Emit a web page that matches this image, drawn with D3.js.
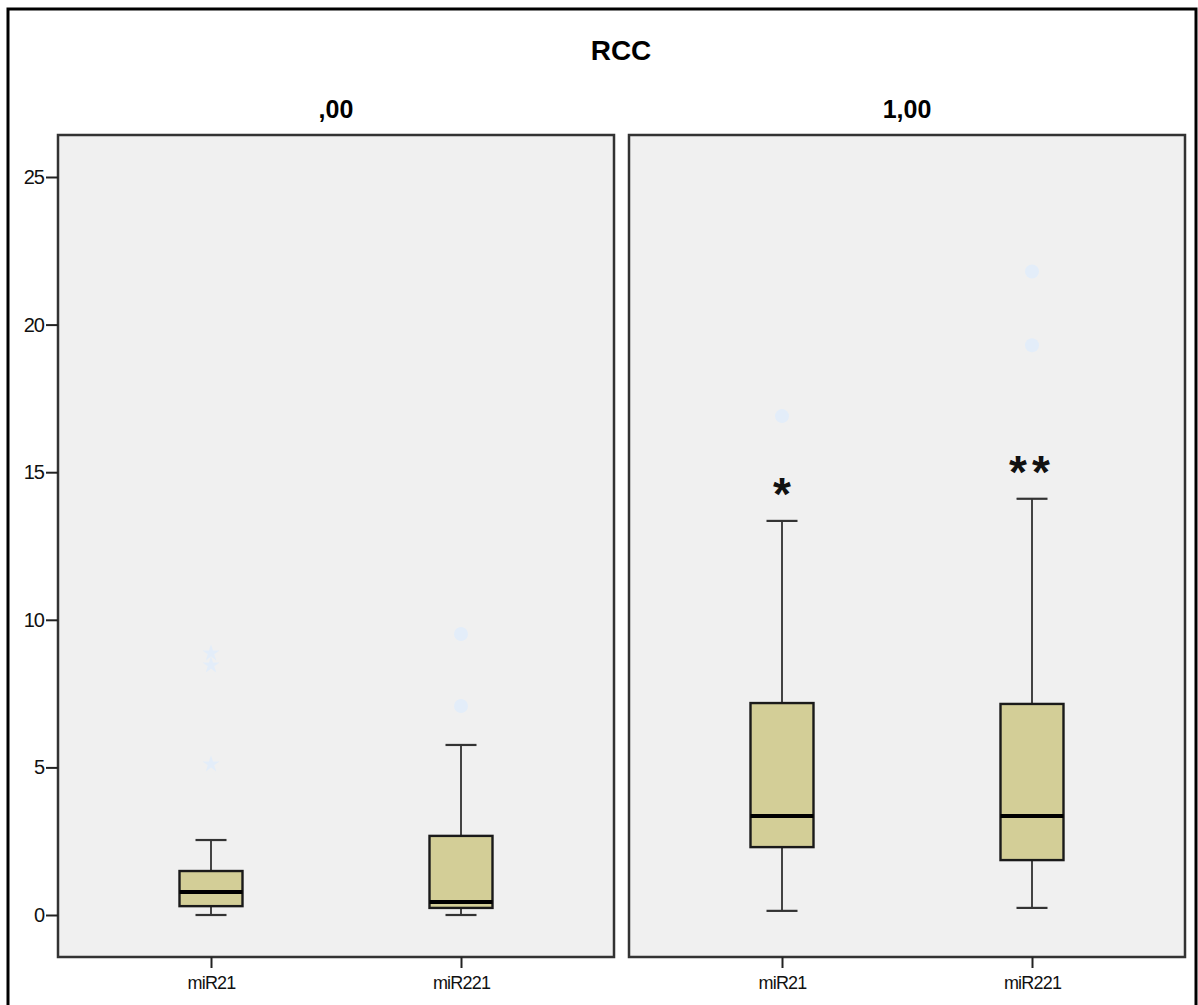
<html>
<script src="https://d3js.org/d3.v7.min.js"></script>
<body style="margin:0;background:#fff">
</body>
<script>
    // chart values
    let title = "RCC";
    let panels = [",00", "1,00"];
    let markers = ["miR21", "miR221"];
    let lowWhisker  = [[0.00, 0.00], [0.14, 0.24]];
    let q1          = [[0.30, 0.24], [2.30, 1.86]];
    let median      = [[0.78, 0.44], [3.35, 3.35]];
    let q3          = [[1.49, 2.68], [7.18, 7.15]];
    let highWhisker = [[2.54, 5.76], [13.35, 14.10]];
    let outliers = [[[], [9.52, 7.08]], [[16.9], [21.8, 19.3]]];
    let extremes = [[[8.87, 8.46, 5.11], []], [[], []]];
    let signif = [["", ""], ["*", "**"]];
    let yTicks = [0, 5, 10, 15, 20, 25];

    let width = 1198, height = 1005;
    let panelTop = 135, panelBottom = 957;
    let panelX = [58, 629], panelW = 556;

    let svg = d3.select("body").append("svg")
        .attr("width", width)
        .attr("height", height)
        .style("font-family", "'Liberation Sans', Arial, sans-serif");

    // outer frame
    svg.append("rect")
        .attr("x", 8).attr("y", 9)
        .attr("width", 1188).attr("height", 1010)
        .attr("fill", "none")
        .attr("stroke", "black")
        .attr("stroke-width", 3);

    let y = d3.scaleLinear()
        .domain([0, 25])
        .range([915, 177]);

    svg.append("text")
        .attr("x", 621).attr("y", 60)
        .attr("text-anchor", "middle")
        .attr("font-weight", "bold")
        .attr("font-size", 28)
        .text(title);

    let boxW = 63, capW = 31;

    for (var p = 0; p < panels.length; p++) {
        let x0 = panelX[p];
        let x = d3.scalePoint()
            .domain(markers)
            .range([x0, x0 + panelW])
            .padding(0.612);

        let g = svg.append("g");

        g.append("rect")
            .attr("x", x0).attr("y", panelTop)
            .attr("width", panelW).attr("height", panelBottom - panelTop)
            .attr("fill", "#f0f0f0")
            .attr("stroke", "#333")
            .attr("stroke-width", 2.5);

        g.append("text")
            .attr("x", x0 + panelW / 2).attr("y", 118)
            .attr("text-anchor", "middle")
            .attr("font-weight", "bold")
            .attr("font-size", 25)
            .text(panels[p]);

        // x axis
        let xAxis = g.append("g")
            .attr("transform", "translate(0," + panelBottom + ")")
            .call(d3.axisBottom(x).tickSize(11).tickPadding(8));
        xAxis.select(".domain").remove();
        xAxis.selectAll("line").attr("stroke", "#222").attr("stroke-width", 2);
        xAxis.selectAll("text")
            .attr("fill", "#111")
            .attr("font-size", 18)
            .attr("letter-spacing", -0.8);

        if (p == 0) {
            let yAxis = g.append("g")
                .attr("transform", "translate(" + x0 + ",0)")
                .call(d3.axisLeft(y).tickValues(yTicks).tickSize(12).tickPadding(2));
            yAxis.select(".domain").remove();
            yAxis.selectAll("line").attr("stroke", "#222").attr("stroke-width", 2);
            yAxis.selectAll("text")
                .attr("fill", "#111")
                .attr("font-size", 20)
                .attr("letter-spacing", -1);
        }

        for (var i = 0; i < markers.length; i++) {
            let cx = x(markers[i]);

            // whiskers
            g.append("line")
                .attr("x1", cx).attr("x2", cx)
                .attr("y1", y(highWhisker[p][i])).attr("y2", y(q3[p][i]))
                .attr("stroke", "#444").attr("stroke-width", 2);
            g.append("line")
                .attr("x1", cx).attr("x2", cx)
                .attr("y1", y(q1[p][i])).attr("y2", y(lowWhisker[p][i]))
                .attr("stroke", "#444").attr("stroke-width", 2);
            [highWhisker[p][i], lowWhisker[p][i]].forEach(v =>
                g.append("line")
                    .attr("x1", cx - capW / 2).attr("x2", cx + capW / 2)
                    .attr("y1", y(v)).attr("y2", y(v))
                    .attr("stroke", "#333").attr("stroke-width", 2.2)
            );

            // box
            g.append("rect")
                .attr("x", cx - boxW / 2)
                .attr("y", y(q3[p][i]))
                .attr("width", boxW)
                .attr("height", y(q1[p][i]) - y(q3[p][i]))
                .attr("fill", "#d3ce97")
                .attr("stroke", "#1a1a1a")
                .attr("stroke-width", 2.4);

            g.append("line")
                .attr("x1", cx - boxW / 2).attr("x2", cx + boxW / 2)
                .attr("y1", y(median[p][i])).attr("y2", y(median[p][i]))
                .attr("stroke", "black").attr("stroke-width", 4);

            // outliers (circles) and extremes (stars)
            outliers[p][i].forEach(v =>
                g.append("circle")
                    .attr("cx", cx).attr("cy", y(v))
                    .attr("r", 7)
                    .attr("fill", "#e3edf9")
            );
            extremes[p][i].forEach(v =>
                g.append("path")
                    .attr("transform", "translate(" + cx + "," + y(v) + ")")
                    .attr("d", d3.symbol().type(d3.symbolStar).size(90)())
                    .attr("fill", "#e3edf9")
            );

            if (signif[p][i] != "") {
                g.append("text")
                    .attr("x", cx).attr("y", y(highWhisker[p][i]) - 11)
                    .attr("text-anchor", "middle")
                    .attr("font-size", 46)
                    .attr("font-weight", "bold")
                    .attr("letter-spacing", signif[p][i].length > 1 ? 5 : 0)
                    .attr("fill", "#111")
                    .text(signif[p][i]);
            }
        }
    }
</script>
</html>
